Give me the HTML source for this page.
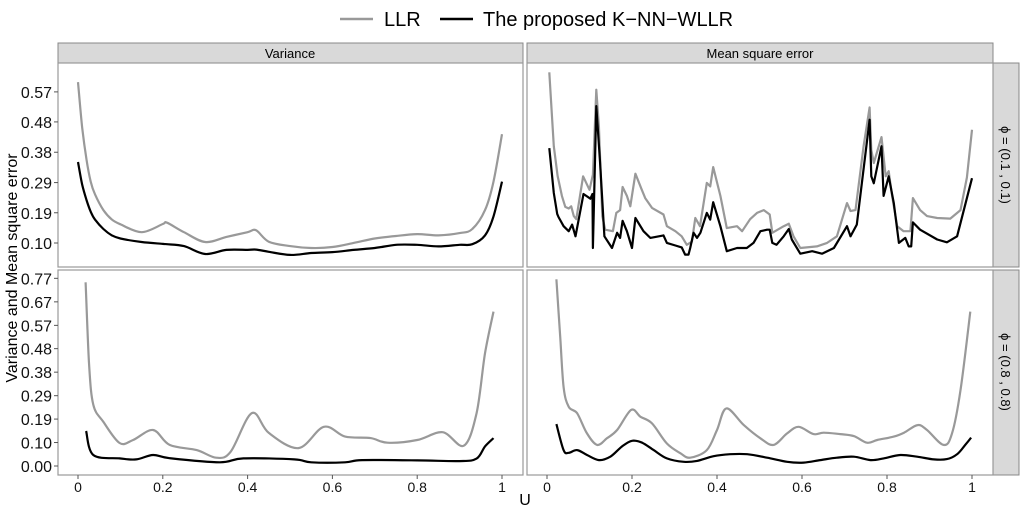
<!DOCTYPE html>
<html><head><meta charset="utf-8"><style>
body{margin:0;background:#fff;}
svg{display:block;font-family:"Liberation Sans",sans-serif;}
</style></head><body>
<svg id="chart" width="1024" height="512" viewBox="0 0 1024 512" xmlns="http://www.w3.org/2000/svg">
<g>
<line x1="340" y1="19" x2="373" y2="19" stroke="#999" stroke-width="2.4"/>
<text x="384" y="26" font-size="20">LLR</text>
<line x1="440" y1="19" x2="473" y2="19" stroke="#000" stroke-width="2.4"/>
<text x="483" y="26" font-size="20">The proposed K−NN−WLLR</text>
</g>
<rect x="58" y="43" width="465" height="20" fill="#d9d9d9" stroke="#888"/>
<text x="290" y="58" font-size="13" text-anchor="middle">Variance</text>
<rect x="527" y="43" width="466" height="20" fill="#d9d9d9" stroke="#888"/>
<text x="760" y="58" font-size="13" text-anchor="middle">Mean square error</text>
<rect x="993" y="63" width="26" height="204" fill="#d9d9d9" stroke="#888"/>
<text transform="translate(1001,165) rotate(90)" font-size="13" text-anchor="middle">ϕ = (0.1 , 0.1)</text>
<rect x="993" y="270" width="26" height="205" fill="#d9d9d9" stroke="#888"/>
<text transform="translate(1001,372) rotate(90)" font-size="13" text-anchor="middle">ϕ = (0.8 , 0.8)</text>
<text transform="translate(17,268) rotate(-90)" font-size="16" text-anchor="middle">Variance and Mean square error</text>
<text x="525" y="505" font-size="16" text-anchor="middle">U</text>
<g id="plots"></g>
</svg>
<script>
const yTicksTop = [0.0958, 0.1915, 0.287, 0.383, 0.479, 0.574];
const yTickLabelsTop = ["0.10","0.19","0.29","0.38","0.48","0.57"];
const yTicksBot = [0, 0.0958, 0.1915, 0.287, 0.383, 0.479, 0.574, 0.670, 0.766];
const yTickLabelsBot = ["0.00","0.10","0.19","0.29","0.38","0.48","0.57","0.67","0.77"];
const xTicks = [0, 0.2, 0.4, 0.6, 0.8, 1];
const xTickLabels = ["0","0.2","0.4","0.6","0.8","1"];

// top-left: variance, phi 0.1
const tlU = [0,0.01,0.02,0.03,0.04,0.06,0.08,0.1,0.15,0.2,0.21,0.25,0.3,0.35,0.4,0.42,0.45,0.5,0.55,0.6,0.65,0.7,0.75,0.8,0.85,0.9,0.93,0.96,0.98,1.0];
const tlLLR = [0.605,0.46,0.36,0.29,0.25,0.20,0.17,0.155,0.13,0.156,0.16,0.13,0.099,0.115,0.13,0.136,0.10,0.086,0.08,0.083,0.096,0.11,0.118,0.124,0.12,0.127,0.14,0.20,0.29,0.44];
const tlKNN = [0.352,0.28,0.232,0.195,0.17,0.14,0.12,0.11,0.099,0.093,0.092,0.086,0.061,0.074,0.074,0.075,0.068,0.058,0.064,0.067,0.074,0.08,0.09,0.09,0.085,0.09,0.092,0.12,0.18,0.29];

// top-right: MSE, phi 0.1
const trU1 = [0.0055,0.016,0.025,0.035,0.043,0.051,0.057,0.063,0.069,0.085,0.10,0.108,0.116,0.122,0.13,0.137,0.155,0.163,0.172,0.178,0.188,0.196,0.208,0.223,0.231,0.247,0.274,0.282,0.302,0.317,0.329,0.341,0.349,0.36,0.376,0.384,0.391,0.408,0.423,0.447,0.459,0.478,0.494,0.51,0.524,0.53,0.557,0.569,0.58,0.596,0.635,0.659,0.682,0.706,0.714,0.726,0.745,0.759,0.763,0.769,0.787,0.797,0.804,0.812,0.824,0.839,0.855,0.861,0.878,0.894,0.918,0.949,0.973,0.988,1.0];
const trLLR = [0.636,0.402,0.308,0.245,0.21,0.205,0.212,0.181,0.171,0.307,0.264,0.312,0.581,0.465,0.181,0.138,0.133,0.191,0.2,0.273,0.245,0.212,0.315,0.264,0.238,0.207,0.186,0.149,0.133,0.117,0.09,0.10,0.175,0.149,0.286,0.275,0.336,0.245,0.143,0.149,0.133,0.171,0.191,0.2,0.186,0.128,0.149,0.157,0.117,0.08,0.085,0.096,0.117,0.222,0.197,0.2,0.402,0.525,0.39,0.349,0.431,0.307,0.323,0.245,0.149,0.133,0.133,0.238,0.2,0.181,0.175,0.173,0.2,0.303,0.454];
const trU2 = [0.0055,0.016,0.024,0.027,0.039,0.051,0.059,0.067,0.086,0.102,0.107,0.108,0.116,0.125,0.135,0.153,0.165,0.172,0.178,0.188,0.2,0.208,0.227,0.243,0.274,0.282,0.302,0.317,0.325,0.333,0.337,0.345,0.353,0.361,0.376,0.384,0.391,0.408,0.423,0.447,0.47,0.486,0.502,0.518,0.524,0.53,0.54,0.557,0.569,0.576,0.596,0.624,0.647,0.675,0.706,0.714,0.729,0.759,0.763,0.769,0.787,0.792,0.804,0.816,0.828,0.843,0.851,0.857,0.861,0.878,0.918,0.941,0.965,1.0];
const trKNN = [0.396,0.254,0.188,0.178,0.149,0.133,0.154,0.117,0.251,0.236,0.251,0.08,0.529,0.349,0.117,0.08,0.128,0.112,0.166,0.133,0.08,0.175,0.133,0.112,0.12,0.096,0.088,0.082,0.059,0.059,0.08,0.128,0.112,0.128,0.191,0.17,0.225,0.149,0.07,0.08,0.08,0.096,0.133,0.138,0.138,0.096,0.09,0.117,0.14,0.107,0.062,0.07,0.062,0.08,0.149,0.117,0.154,0.486,0.307,0.285,0.402,0.245,0.307,0.222,0.096,0.112,0.085,0.085,0.161,0.138,0.107,0.098,0.117,0.301];

// bottom-left: variance, phi 0.8
const blU1 = [0.018,0.026,0.036,0.06,0.098,0.13,0.177,0.216,0.28,0.326,0.36,0.41,0.45,0.52,0.58,0.63,0.69,0.73,0.8,0.86,0.91,0.94,0.96,0.98];
const blLLR = [0.75,0.42,0.25,0.18,0.094,0.106,0.147,0.086,0.065,0.034,0.058,0.216,0.135,0.073,0.16,0.12,0.114,0.095,0.106,0.138,0.083,0.216,0.46,0.63];
const blU2 = [0.019,0.036,0.098,0.137,0.177,0.216,0.334,0.39,0.51,0.55,0.63,0.67,0.8,0.9,0.94,0.96,0.98];
const blKNN = [0.143,0.045,0.031,0.027,0.045,0.032,0.015,0.031,0.027,0.015,0.015,0.024,0.023,0.02,0.03,0.08,0.114];

// bottom-right: MSE, phi 0.8
const brU1 = [0.022,0.031,0.039,0.051,0.071,0.094,0.118,0.141,0.165,0.198,0.22,0.247,0.282,0.314,0.337,0.376,0.4,0.422,0.463,0.502,0.533,0.565,0.592,0.627,0.651,0.69,0.722,0.753,0.777,0.816,0.84,0.872,0.894,0.933,0.953,0.973,0.996];
const brLLR = [0.762,0.528,0.322,0.242,0.215,0.133,0.086,0.113,0.147,0.229,0.201,0.174,0.092,0.052,0.034,0.065,0.147,0.235,0.167,0.113,0.086,0.133,0.16,0.13,0.136,0.13,0.122,0.095,0.106,0.12,0.136,0.167,0.147,0.086,0.133,0.31,0.63];
const brU2 = [0.022,0.039,0.051,0.071,0.094,0.122,0.149,0.176,0.2,0.224,0.251,0.282,0.322,0.353,0.392,0.431,0.471,0.518,0.565,0.604,0.643,0.682,0.722,0.761,0.792,0.831,0.871,0.91,0.941,0.965,0.984,0.998];
const brKNN = [0.171,0.065,0.054,0.065,0.045,0.024,0.038,0.079,0.103,0.095,0.065,0.031,0.017,0.021,0.04,0.048,0.048,0.034,0.017,0.014,0.024,0.034,0.038,0.024,0.031,0.045,0.038,0.027,0.028,0.048,0.086,0.116];

const NS='http://www.w3.org/2000/svg';
const root=document.getElementById('plots');
function mk(tag,attrs,parent){const e=document.createElementNS(NS,tag);for(const k in attrs)e.setAttribute(k,attrs[k]);(parent||root).appendChild(e);return e;}
function smoothPath(P){
 let d='M'+P[0][0].toFixed(1)+','+P[0][1].toFixed(1);
 for(let i=0;i<P.length-1;i++){
  const p0=P[Math.max(0,i-1)],p1=P[i],p2=P[i+1],p3=P[Math.min(P.length-1,i+2)];
  const t=1/6;
  const c1x=p1[0]+(p2[0]-p0[0])*t,c1y=p1[1]+(p2[1]-p0[1])*t;
  const c2x=p2[0]-(p3[0]-p1[0])*t,c2y=p2[1]-(p3[1]-p1[1])*t;
  d+='C'+c1x.toFixed(1)+','+c1y.toFixed(1)+' '+c2x.toFixed(1)+','+c2y.toFixed(1)+' '+p2[0].toFixed(1)+','+p2[1].toFixed(1);
 }
 return d;
}
function linePath(P){return 'M'+P.map(p=>p[0].toFixed(1)+','+p[1].toFixed(1)).join('L');}
const panels=[
 {name:'panel-variance-phi01',x0:58,x1:523,y0:63,y1:267,top:true,left:true,smooth:true,s:[[tlU,tlLLR],[tlU,tlKNN]]},
 {name:'panel-mse-phi01',x0:527,x1:993,y0:63,y1:267,top:true,left:false,smooth:false,s:[[trU1,trLLR],[trU2,trKNN]]},
 {name:'panel-variance-phi08',x0:58,x1:523,y0:270,y1:475,top:false,left:true,smooth:true,s:[[blU1,blLLR],[blU2,blKNN]]},
 {name:'panel-mse-phi08',x0:527,x1:993,y0:270,y1:475,top:false,left:false,smooth:true,s:[[brU1,brLLR],[brU2,brKNN]]}
];
panels.forEach(p=>{
 const g=mk('g',{});
 
 
 const xs=u=>p.x0+20+u*(p.x1-p.x0-41);
 const ys=p.top?(v=>243-(v-0.0958)*316):(v=>466-v*245);
 const bg=mk('rect',{x:p.x0,y:p.y0,width:p.x1-p.x0,height:p.y1-p.y0,fill:'#fff',stroke:'#999','stroke-width':1.2},g);
 
 
 const cols=['#999','#000'];const nm=['series-llr','series-knn-wllr'];
 p.s.forEach((s,i)=>{
  const P=s[0].map((u,k)=>[xs(u),ys(s[1][k])]);
  const pl=mk('path',{d:p.smooth?smoothPath(P):linePath(P),fill:'none',stroke:cols[i],'stroke-width':2.2,'stroke-linejoin':'round'},g);
  
  
 });
 if(p.left){
  const tv=p.top?yTicksTop:yTicksBot, tl=p.top?yTickLabelsTop:yTickLabelsBot;
  tv.forEach((v,k)=>{
   const y=ys(v);
   const t=mk('line',{x1:54,x2:58,y1:y,y2:y,stroke:'#555'},g);
   
   
   const tx=mk('text',{x:52,y:y+6,'font-size':16,'text-anchor':'end',fill:'#111'},g);
   tx.textContent=tl[k];
   
   
  });
 }
 if(!p.top){
  xTicks.forEach((u,k)=>{
   const x=xs(u);
   const t=mk('line',{x1:x,x2:x,y1:475,y2:479,stroke:'#555'},g);
   
   
   const tx=mk('text',{x:x,y:492,'font-size':14,'text-anchor':'middle',fill:'#111'},g);
   tx.textContent=xTickLabels[k];
   
   
  });
 }
});
</script>
</body></html>
